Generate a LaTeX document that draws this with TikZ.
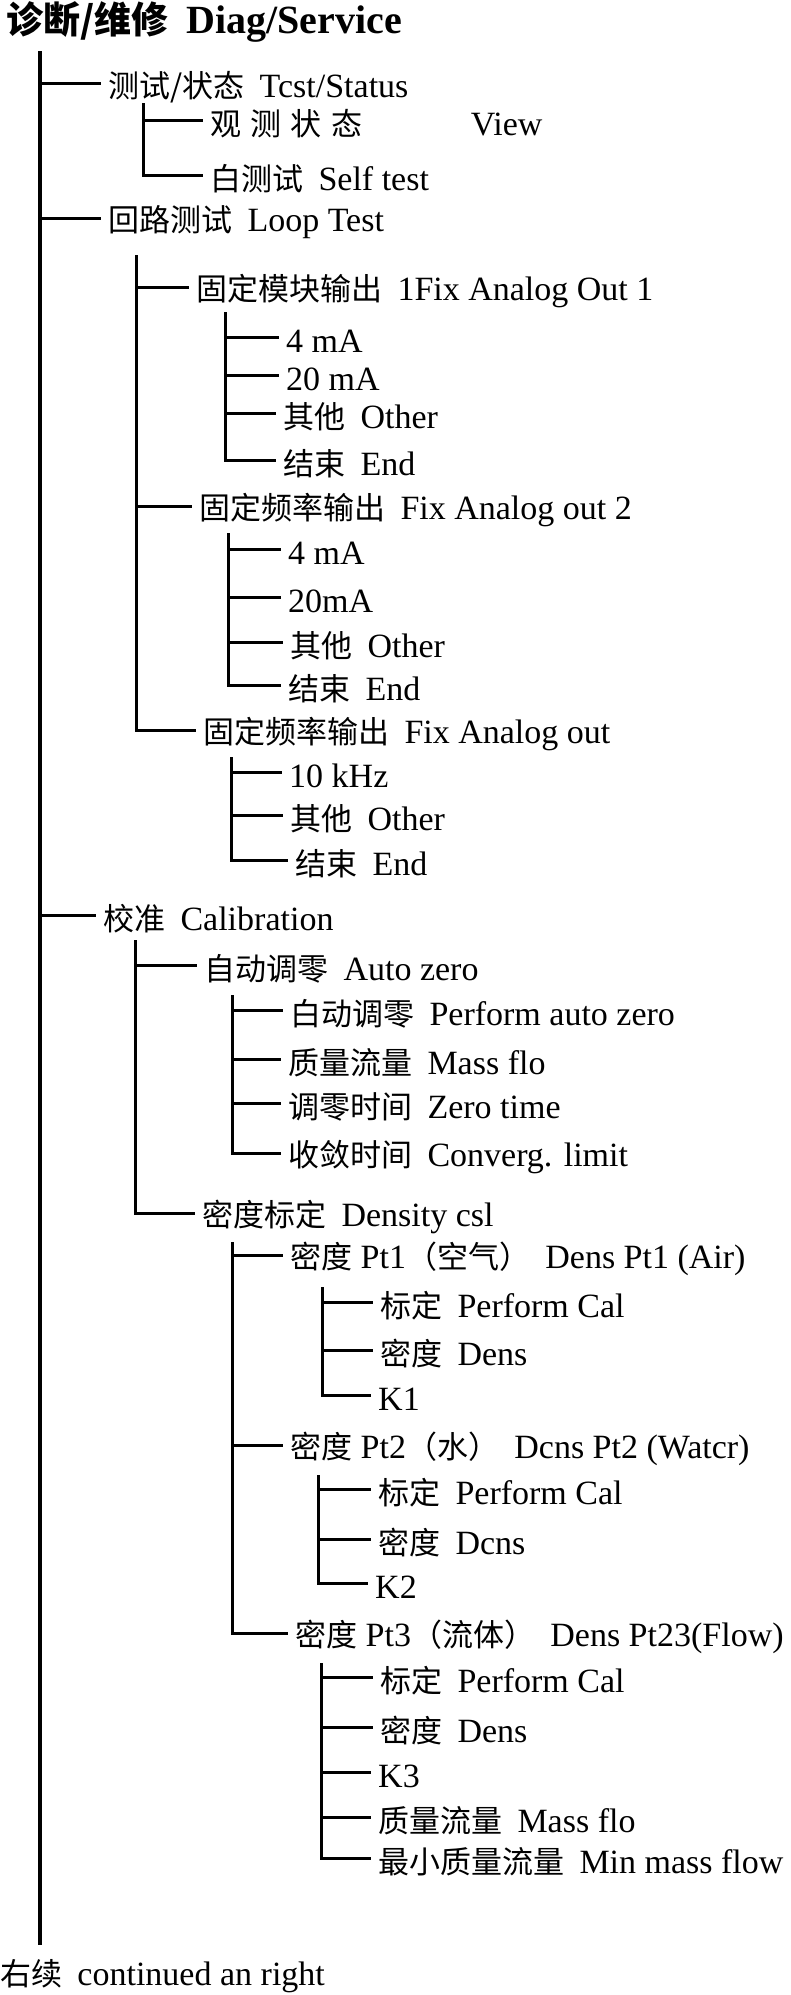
\documentclass[tikz,border=0pt]{standalone}
\usepackage{fontspec}
\setmainfont{Liberation Serif}
\newfontfamily\cjk{Noto Sans CJK SC}
\newcommand{\zh}[1]{{\fontsize{31}{31}\cjk #1}}
\newcommand{\zhb}[1]{{\fontsize{37}{37}\cjk\bfseries #1}}
\newcommand{\gap}{\hspace{0.45em}}
\usetikzlibrary{calc}
\tikzset{
  lbl/.style={anchor=west, inner sep=0pt, font=\fontsize{34}{34}\selectfont, yshift=-4pt},
  ttl/.style={anchor=west, inner sep=0pt, font=\fontsize{40}{40}\selectfont\bfseries},
  br/.style={line width=3pt, shorten >=7pt},
  mainline/.style={line width=3.2pt},
}
\begin{document}
\begin{tikzpicture}[x=1pt,y=-1pt]
\useasboundingbox (0,0) rectangle (790,1995);
% title and footer
\node[ttl] (title) at (6,22) {\zhb{诊断/维修}\gap Diag/Service};
\node[lbl] (foot) at (0,1972) {\zh{右续}\gap continued an right};
% main vertical
\coordinate (m0) at (40,51);
\coordinate (m1) at (40,1945);
\draw[mainline] (m0) -- (m1);
% level 1
\node[lbl] (a1) at (108,83) {\zh{测试/状态}\gap Tcst/Status};
\node[lbl] (a2) at (108,218) {\zh{回路测试}\gap Loop Test};
\node[lbl] (a3) at (103,915) {\zh{校准}\gap Calibration};
\foreach \n in {a1,a2,a3} \draw[br] (m0) |- ([yshift=4pt]\n.west);
% under a1
\coordinate (va1) at (143,103);
\node[lbl] (b1) at (210,120) {\zh{观\hspace{0.3em}测\hspace{0.3em}状\hspace{0.3em}态}\hspace{3.2em}View};
\node[lbl] (b2) at (210,175) {\zh{白测试}\gap Self test};
\foreach \n in {b1,b2} \draw[br] (va1) |- ([yshift=4pt]\n.west);
% under a2
\coordinate (va2) at (136,255);
\node[lbl] (c1) at (196,287) {\zh{固定模块输出}\gap 1Fix Analog Out 1};
\node[lbl] (c2) at (199,506) {\zh{固定频率输出}\gap Fix Analog out 2};
\node[lbl] (c3) at (203,730) {\zh{固定频率输出}\gap Fix Analog out};
\foreach \n in {c1,c2,c3} \draw[br] (va2) |- ([yshift=4pt]\n.west);
% under c1
\coordinate (vc1) at (225,312);
\node[lbl] (c1a) at (286,337) {4 mA};
\node[lbl] (c1b) at (286,375) {20 mA};
\node[lbl] (c1c) at (283,413) {\zh{其他}\gap Other};
\node[lbl] (c1d) at (283,460) {\zh{结束}\gap End};
\foreach \n in {c1a,c1b,c1c,c1d} \draw[br] (vc1) |- ([yshift=4pt]\n.west);
% under c2
\coordinate (vc2) at (228,533);
\node[lbl] (c2a) at (288,549) {4 mA};
\node[lbl] (c2b) at (288,597) {20mA};
\node[lbl] (c2c) at (290,642) {\zh{其他}\gap Other};
\node[lbl] (c2d) at (288,685) {\zh{结束}\gap End};
\foreach \n in {c2a,c2b,c2c,c2d} \draw[br] (vc2) |- ([yshift=4pt]\n.west);
% under c3
\coordinate (vc3) at (231,757);
\node[lbl] (c3a) at (289,772) {10 kHz};
\node[lbl] (c3b) at (290,815) {\zh{其他}\gap Other};
\node[lbl] (c3c) at (295,860) {\zh{结束}\gap End};
\foreach \n in {c3a,c3b,c3c} \draw[br] (vc3) |- ([yshift=4pt]\n.west);
% under a3
\coordinate (va3) at (135,940);
\node[lbl] (d1) at (204,965) {\zh{自动调零}\gap Auto zero};
\node[lbl] (d2) at (202,1213) {\zh{密度标定}\gap Density csl};
\foreach \n in {d1,d2} \draw[br] (va3) |- ([yshift=4pt]\n.west);
% under d1
\coordinate (vd1) at (232,995);
\node[lbl] (d1a) at (290,1010) {\zh{白动调零}\gap Perform auto zero};
\node[lbl] (d1b) at (288,1059) {\zh{质量流量}\gap Mass flo};
\node[lbl] (d1c) at (288,1103) {\zh{调零时间}\gap Zero time};
\node[lbl] (d1d) at (288,1153) {\zh{收敛时间}\gap Converg. limit};
\foreach \n in {d1a,d1b,d1c,d1d} \draw[br] (vd1) |- ([yshift=4pt]\n.west);
% under d2
\coordinate (vd2) at (232,1242);
\node[lbl] (e1) at (290,1255) {\zh{密度} Pt1\zh{（空气）}\gap Dens Pt1 (Air)};
\node[lbl] (e2) at (290,1445) {\zh{密度} Pt2\zh{（水）}\gap Dcns Pt2 (Watcr)};
\node[lbl] (e3) at (295,1633) {\zh{密度} Pt3\zh{（流体）}\gap Dens Pt23(Flow)};
\foreach \n in {e1,e2,e3} \draw[br] (vd2) |- ([yshift=4pt]\n.west);
% under e1
\coordinate (ve1) at (322,1287);
\node[lbl] (e1a) at (380,1302) {\zh{标定}\gap Perform Cal};
\node[lbl] (e1b) at (380,1350) {\zh{密度}\gap Dens};
\node[lbl] (e1c) at (378,1395) {K1};
\foreach \n in {e1a,e1b,e1c} \draw[br] (ve1) |- ([yshift=4pt]\n.west);
% under e2
\coordinate (ve2) at (318,1475);
\node[lbl] (e2a) at (378,1489) {\zh{标定}\gap Perform Cal};
\node[lbl] (e2b) at (378,1539) {\zh{密度}\gap Dcns};
\node[lbl] (e2c) at (375,1583) {K2};
\foreach \n in {e2a,e2b,e2c} \draw[br] (ve2) |- ([yshift=4pt]\n.west);
% under e3
\coordinate (ve3) at (321,1663);
\node[lbl] (e3a) at (380,1677) {\zh{标定}\gap Perform Cal};
\node[lbl] (e3b) at (380,1727) {\zh{密度}\gap Dens};
\node[lbl] (e3c) at (378,1772) {K3};
\node[lbl] (e3d) at (378,1817) {\zh{质量流量}\gap Mass flo};
\node[lbl] (e3e) at (378,1858) {\zh{最小质量流量}\gap Min mass flow};
\foreach \n in {e3a,e3b,e3c,e3d,e3e} \draw[br] (ve3) |- ([yshift=4pt]\n.west);
\end{tikzpicture}
\end{document}
